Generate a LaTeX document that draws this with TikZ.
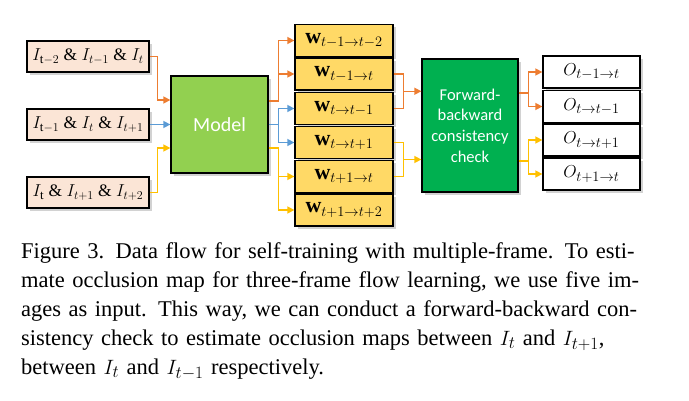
\documentclass[tikz,border=0pt]{standalone}
\usepackage{fontspec}
\setmainfont{Liberation Serif}
\newfontfamily\calibri{Carlito}
\usepackage{amsmath}
\DeclareMathSizes{17.5}{17.5}{13}{10}
\DeclareMathSizes{22}{22}{14}{11}
\DeclareMathSizes{18.5}{18.5}{13.5}{10}
\DeclareMathSizes{22.5}{22.5}{16}{12}
\usetikzlibrary{arrows.meta,shadows,calc}
\definecolor{cOrange}{HTML}{ED7D31}
\definecolor{cBlue}{HTML}{5B9BD5}
\definecolor{cYellow}{HTML}{FFC000}
\definecolor{cPeach}{HTML}{FBE5D6}
\definecolor{cModel}{HTML}{92D050}
\definecolor{cGold}{HTML}{FFD966}
\definecolor{cCheck}{HTML}{00B050}
\begin{document}
\begin{tikzpicture}[x=1pt,y=-1pt,
  shadowed/.style={drop shadow={shadow xshift=2.5pt,shadow yshift=-2.5pt,opacity=0.25,fill=black!70}},
  box/.style={draw=black, line width=1.3pt, inner sep=0pt, shadowed},
  inbox/.style={box, fill=cPeach, minimum width=122pt, minimum height=31pt, font=\fontsize{17.5}{20}\selectfont},
  wbox/.style={box, fill=cGold, minimum width=98pt, minimum height=32pt, font=\fontsize{22}{24}\selectfont},
  obox/.style={box, fill=white, minimum width=97pt, minimum height=32pt, font=\fontsize{18.5}{22}\selectfont},
  bigbox/.style={box, text=white, align=center},
  conn/.style={line width=1.5pt},
  arr/.style={conn, -{Triangle[length=7pt,width=7pt]}}
]
\useasboundingbox (0,0) rectangle (689,400);

% inputs
\node[inbox] (in1) at (88,56.5) {$I_{\mathrm{t}-2}\ \&\ I_{t-1}\ \&\ I_{t}$};
\node[inbox] (in2) at (88,124.5) {$I_{\mathrm{t}-1}\ \&\ I_{t}\ \&\ I_{t+1}$};
\node[inbox] (in3) at (88,192.5) {$I_{\mathrm{t}}\ \&\ I_{t+1}\ \&\ I_{t+2}$};

% model
\node[bigbox, fill=cModel, minimum width=97pt, minimum height=97pt,
      font=\calibri\fontsize{20}{24}\selectfont] (model) at (219.5,124.5) {Model};

% flows
\node[wbox] (w1) at (344,40.5) {$\mathbf{w}_{t-1\rightarrow t-2}$};
\node[wbox] (w2) at (344,74) {$\mathbf{w}_{t-1\rightarrow t}$};
\node[wbox] (w3) at (344,108.5) {$\mathbf{w}_{t\rightarrow t-1}$};
\node[wbox] (w4) at (344,142.5) {$\mathbf{w}_{t\rightarrow t+1}$};
\node[wbox] (w5) at (344,176.5) {$\mathbf{w}_{t+1\rightarrow t}$};
\node[wbox] (w6) at (344,210) {$\mathbf{w}_{t+1\rightarrow t+2}$};

% check
\node[bigbox, fill=cCheck, minimum width=96pt, minimum height=133pt,
      font=\calibri\fontsize{16.5}{20.7}\selectfont] (fb) at (470,125.5)
      {Forward-\\backward\\consistency\\check};

% occlusion
\node[obox] (o1) at (591.5,72) {$O_{t-1\rightarrow t}$};
\node[obox] (o2) at (591.5,106.5) {$O_{t\rightarrow t-1}$};
\node[obox] (o3) at (591.5,140) {$O_{t\rightarrow t+1}$};
\node[obox] (o4) at (591.5,174) {$O_{t+1\rightarrow t}$};

% inputs -> model
\draw[arr, cOrange] (in1.east) -- ++(8,0) |- ([yshift=24.5pt]model.west);
\draw[arr, cBlue] (in2.east) -- (model.west);
\draw[arr, cYellow] (in3.east) -- ++(8,0) |- ([yshift=-23.5pt]model.west);

% model -> flows
\draw[conn, cOrange] ([yshift=23.5pt]model.east) -- ++(10,0) coordinate (mo);
\draw[arr, cOrange] (mo) |- (w1.west);
\draw[arr, cOrange] (mo) |- (w2.west);
\draw[conn, cBlue] (model.east) -- ++(10,0) coordinate (mb);
\draw[arr, cBlue] (mb) |- (w3.west);
\draw[arr, cBlue] (mb) |- (w4.west);
\draw[conn, cYellow] ([yshift=-23.5pt]model.east) -- ++(10,0) coordinate (my);
\draw[arr, cYellow] (my) |- (w5.west);
\draw[arr, cYellow] (my) |- (w6.west);

% flows -> check
\draw[conn, cOrange] (w2.east) -- ++(10,0) |- (w3.east);
\coordinate (fo) at ($($(w2.east)!0.5!(w3.east)$)+(10,0)$);
\draw[arr, cOrange] (fo) -- (fo -| fb.west);
\draw[conn, cYellow] (w4.east) -- ++(10,0) |- (w5.east);
\coordinate (fy) at ($($(w4.east)!0.5!(w5.east)$)+(10,0)$);
\draw[arr, cYellow] (fy) -- (fy -| fb.west);

% check -> occlusion
\draw[conn, cOrange] ([yshift=32.5pt]fb.east) -- ++(10,0) coordinate (co);
\draw[arr, cOrange] (co) |- (o1.west);
\draw[arr, cOrange] (co) |- (o2.west);
\draw[conn, cYellow] ([yshift=-35.5pt]fb.east) -- ++(10,0) coordinate (cy);
\draw[arr, cYellow] (cy) |- (o3.west);
\draw[arr, cYellow] (cy) |- (o4.west);

% caption
\node[anchor=north west, inner sep=0pt, text width=625pt, align=left,
      font=\fontsize{22.5}{29}\selectfont] (cap) at (21,242)
 {\makebox[625pt][s]{Figure 3. Data flow for self-training with multiple-frame. To esti-}\\
  \makebox[625pt][s]{mate occlusion map for three-frame flow learning, we use five im-}\\
  \makebox[625pt][s]{ages as input. This way, we can conduct a forward-backward con-}\\
  \makebox[625pt][s]{sistency check to estimate occlusion maps between $I_t$ and $I_{t+1}$,}\\
  between $I_t$ and $I_{t-1}$ respectively.};
\end{tikzpicture}
\end{document}
